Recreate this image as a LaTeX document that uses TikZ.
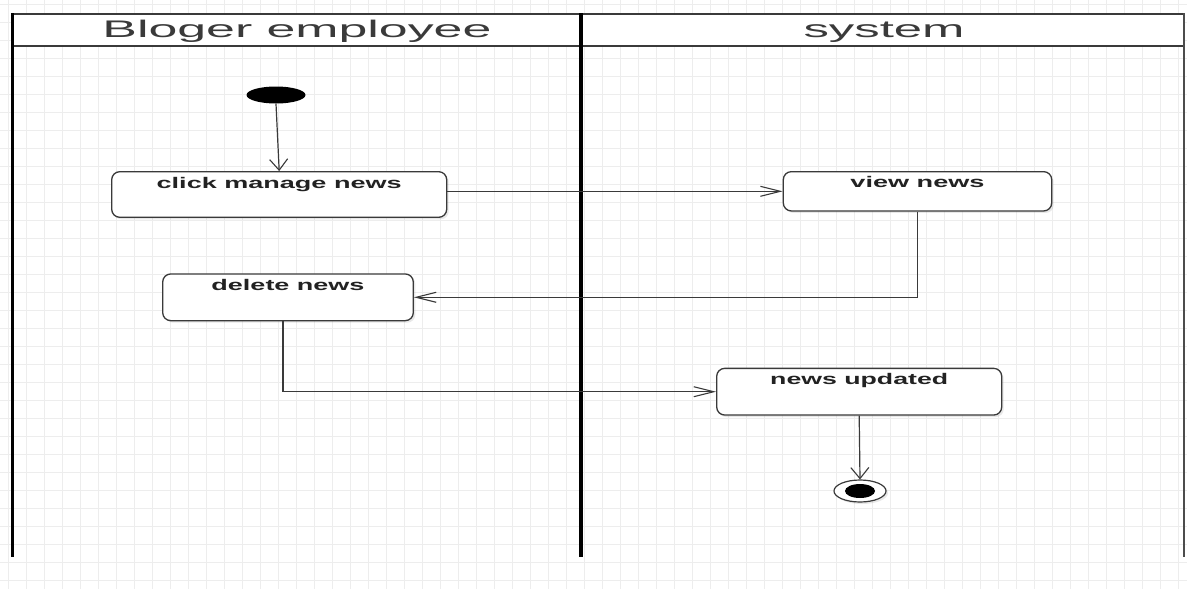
\documentclass[tikz,border=0pt]{standalone}
\usepackage{fontspec}
\setmainfont{Liberation Sans}
\usepackage{graphicx}
\usetikzlibrary{arrows.meta,shapes.geometric,shadows}
\newcommand{\boxtext}[2]{\resizebox{#1pt}{\height}{\bfseries\fontsize{15.4}{18}\selectfont #2}}
\newcommand{\headtext}[2]{\resizebox{#1pt}{\height}{\fontsize{24}{28}\selectfont #2}}
\definecolor{linec}{HTML}{3A3A3A}
\definecolor{textc}{HTML}{222222}
\tikzset{
  gridline/.style={draw=black!7, line width=0.7pt},
  act/.style={draw=linec, line width=1.3pt, rounded corners=8pt, fill=white, rectangle, inner sep=0pt,
    drop shadow={opacity=0.18, shadow xshift=2pt, shadow yshift=-2pt}},
  conn/.style={draw=linec, line width=1.2pt},
  hhead/.style={-{Straight Barb[length=20pt,width=10pt,line width=1.1pt]}},
  vhead/.style={-{Straight Barb[length=11pt,width=18pt,line width=1.1pt]}},
  lanel/.style={line width=#1, draw=black},
}
\begin{document}
\begin{tikzpicture}[x=1pt,y=-1pt]
\useasboundingbox (0,0) rectangle (1187,589);
\fill[white] (0,0) rectangle (1187,589);
% grid
\foreach \x in {8,26,...,1187} \draw[gridline] (\x,0) -- (\x,589);
\foreach \y in {4,22,...,589} \draw[gridline] (0,\y) -- (1187,\y);
% header
\fill[white] (12,14) rectangle (1184,46);
\draw[lanel=2pt, draw=linec] (12,14) -- (1184,14);
\draw[lanel=2pt, draw=linec] (12,46) -- (1184,46);
\draw[lanel=3pt] (12,13) -- (12,557);
\draw[lanel=4pt] (581,13) -- (581,557);
\draw[lanel=2pt, draw=black!70] (1184,13) -- (1184,557);
\node[anchor=base, text=linec, inner sep=0pt] (h1) at (297,37) {\headtext{389}{Bloger employee}};
\node[anchor=base, text=linec, inner sep=0pt] (h2) at (884,37) {\headtext{161}{system}};
% nodes
\node[fill=black, ellipse, minimum width=59pt, minimum height=17pt, inner sep=0pt] (start) at (276,95) {};
\node[act, minimum width=335pt, minimum height=45.6pt,
  label={[anchor=base, yshift=-17pt, text=textc]north:\boxtext{245}{click manage news}}] (click) at (279.2,194.5) {};
\node[act, minimum width=268.4pt, minimum height=39.3pt,
  label={[anchor=base, yshift=-16.5pt, text=textc]north:\boxtext{134}{view news}}] (view) at (917.5,191.3) {};
\node[act, minimum width=250.6pt, minimum height=46.7pt,
  label={[anchor=base, yshift=-17pt, text=textc]north:\boxtext{153}{delete news}}] (delete) at (288,297.3) {};
\node[act, minimum width=285pt, minimum height=46.7pt,
  label={[anchor=base, yshift=-16.5pt, text=textc]north:\boxtext{178}{news updated}}] (upd) at (859.2,391.7) {};
\node[draw=linec, line width=1.2pt, fill=white, ellipse, minimum width=52pt, minimum height=22pt, inner sep=0pt,
  drop shadow={opacity=0.18, shadow xshift=2pt, shadow yshift=-2pt}] (end) at (860,491) {};
\fill[black] (end.center) ellipse [x radius=15pt, y radius=7pt];
% connectors
\draw[conn, vhead] (start.south) -- (click.north);
\draw[conn, hhead] (click.east |- view.west) -- (view.west);
\draw[conn, hhead] (view.south) |- (delete.east);
\draw[conn, hhead] ([xshift=-5pt]delete.south) |- (upd.west);
\draw[conn, vhead] (upd.south) -- (end.north);
\end{tikzpicture}
\end{document}
